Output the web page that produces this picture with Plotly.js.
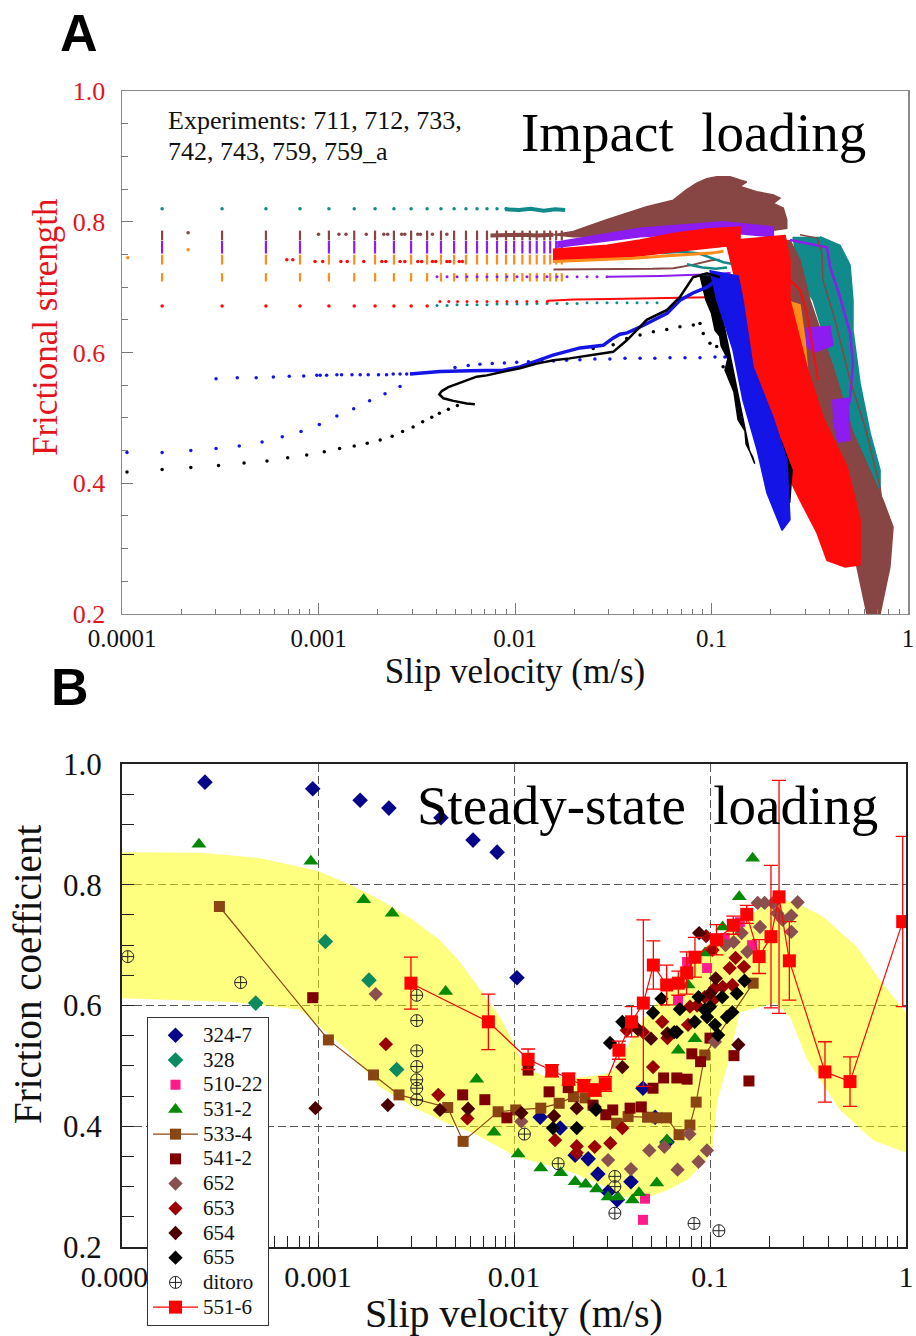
<!DOCTYPE html>
<html><head><meta charset="utf-8">
<script src="https://cdn.plot.ly/plotly-3.0.1.min.js"></script>
<style>body{margin:0;background:#fff}#chart{width:916px;height:1336px}</style>
</head><body><div id="chart"></div>
<script>
// ---------- shared axis ticks ----------
const xTickVals = [0.0001, 0.001, 0.01, 0.1, 1];
const xTickText = ['0.0001', '0.001', '0.01', '0.1', '1'];
const xMinorVals = [2e-4,3e-4,4e-4,5e-4,6e-4,7e-4,8e-4,9e-4,2e-3,3e-3,4e-3,5e-3,6e-3,7e-3,8e-3,9e-3,0.02,0.03,0.04,0.05,0.06,0.07,0.08,0.09,0.2,0.3,0.4,0.5,0.6,0.7,0.8,0.9];
const yTickVals = [0.2, 0.4, 0.6, 0.8, 1.0];
const yTickText = ['0.2', '0.4', '0.6', '0.8', '1.0'];
const yMinorVals = [0.25,0.3,0.35,0.45,0.5,0.55,0.65,0.7,0.75,0.85,0.9,0.95];

// ---------- Panel A: impact loading ----------
const colX = [1.6e-4, 3.23e-4, 5.4e-4, 8.05e-4, 1.13e-3, 1.52e-3, 1.94e-3, 2.42e-3, 2.96e-3, 3.57e-3, 4.2e-3, 4.9e-3, 5.63e-3, 6.41e-3, 7.2e-3, 8.1e-3, 9.0e-3, 9.9e-3, 0.0109, 0.0119, 0.0129, 0.0141, 0.0151, 0.0162, 0.0173];
const tealRowX = [1.6e-4, 3.23e-4, 5.4e-4, 8.05e-4, 1.13e-3, 1.52e-3, 1.94e-3, 2.42e-3, 2.96e-3, 3.57e-3, 4.2e-3, 4.9e-3, 5.63e-3, 6.41e-3, 7.2e-3, 8.1e-3, 9.0e-3];
const tealRowY = [0.82,0.82,0.82,0.82,0.82,0.82,0.82,0.82,0.82,0.82,0.82,0.82,0.82,0.82,0.82,0.82,0.82];
const tealBandX = [8.9e-3, 0.0105, 0.012, 0.014, 0.016, 0.018];
const tealBandY = [0.819, 0.818, 0.82, 0.817, 0.819, 0.818];
const brownRowY = [0.779,0.779,0.779,0.779,0.779,0.779,0.779,0.779,0.779,0.779,0.779,0.779,0.779,0.779,0.779,0.779,0.779,0.779,0.779,0.779,0.779,0.779,0.779,0.779,0.779];
const purpleRowY = [0.761,0.761,0.761,0.761,0.761,0.761,0.761,0.761,0.761,0.761,0.761,0.761,0.761,0.761,0.761,0.761,0.761,0.761,0.761,0.761,0.761,0.761,0.761,0.761,0.761];
const orangeRowY = [0.742,0.742,0.742,0.742,0.742,0.742,0.742,0.742,0.742,0.742,0.742,0.742,0.742,0.742,0.742,0.742,0.742,0.742,0.742,0.742,0.742,0.742,0.742,0.742,0.742];
const lowRowY = [0.715,0.715,0.715,0.715,0.715,0.715,0.715,0.715,0.715,0.715,0.715,0.715,0.715,0.715,0.715,0.715,0.715,0.715,0.715,0.715,0.715,0.715,0.715,0.715,0.715];
const redRowX = [1.6e-4, 3.23e-4, 5.4e-4, 8.05e-4, 1.13e-3, 1.52e-3, 1.94e-3, 2.42e-3, 2.96e-3, 3.57e-3];
const redRowY = [0.671,0.671,0.671,0.671,0.671,0.671,0.671,0.671,0.671,0.671];
const brownDotX = [2.17e-4, 1.0e-3, 1.27e-3, 1.38e-3, 1.75e-3, 2.15e-3, 2.25e-3, 2.65e-3, 2.75e-3, 3.2e-3, 3.3e-3, 3.8e-3, 4.5e-3];
const brownDotY = [0.783, 0.781, 0.781, 0.781, 0.781, 0.781, 0.781, 0.781, 0.781, 0.781, 0.781, 0.781, 0.781];
const redDotX = [6.9e-4, 7.4e-4, 9.6e-4, 1.05e-3, 1.3e-3, 1.4e-3, 1.7e-3, 2.1e-3, 2.2e-3, 2.6e-3, 2.75e-3, 3.2e-3, 3.35e-3, 3.8e-3, 3.95e-3, 4.5e-3, 4.65e-3, 5.2e-3, 5.4e-3];
const redDotY = [0.742,0.742,0.739,0.739,0.739,0.739,0.739,0.739,0.739,0.739,0.739,0.739,0.739,0.739,0.739,0.739,0.739,0.739,0.739];
const extraX = [2.17e-4, 1.07e-4];
const extraY = [0.757, 0.745];
const denseX = [4.01e-3, 4.51e-3, 5.07e-3, 5.7e-3, 6.41e-3, 7.2e-3, 8.1e-3, 9.1e-3, 0.01024, 0.0115, 0.01294, 0.01455, 0.01636, 0.0184, 0.0207, 0.02325, 0.02614, 0.0294, 0.033, 0.0372, 0.0418, 0.047, 0.0528];
const tealDotY = [0.672,0.672,0.673,0.673,0.673,0.673,0.674,0.674,0.674,0.674,0.675,0.675,0.675,0.675,0.675,0.676,0.676,0.676,0.676,0.676,0.676,0.676,0.676];
const purpleDotY = [0.716,0.716,0.716,0.716,0.716,0.716,0.716,0.716,0.716,0.716,0.716,0.716,0.716,0.716,0.716,0.716,0.716,0.716];
const redDot2X = [4.15e-3, 4.6e-3, 5.1e-3, 5.7e-3, 6.4e-3, 7.2e-3, 8.1e-3, 9.1e-3, 0.0102, 0.0115, 0.0129, 0.0146];
const redDot2Y = [0.678,0.678,0.678,0.678,0.678,0.678,0.678,0.678,0.678,0.678,0.678,0.678];
const redLineX = [0.0146, 0.02, 0.03, 0.045, 0.06, 0.08, 0.1, 0.115];
const redLineY = [0.679, 0.681, 0.682, 0.683, 0.683, 0.684, 0.685, 0.685];
const purpleLineX = [0.0294, 0.04, 0.055, 0.07, 0.09, 0.11, 0.125];
const purpleLineY = [0.716, 0.716, 0.717, 0.718, 0.719, 0.72, 0.722];
const brownThinBandX = [0.0157, 0.022, 0.03, 0.04, 0.05, 0.064, 0.08, 0.1, 0.11];
const brownThinBandY = [0.727, 0.727, 0.727, 0.728, 0.728, 0.729, 0.734, 0.741, 0.742];
const brownBandX = [7.5e-3, 0.009, 0.011, 0.013, 0.0157];
const brownBandY = [0.779, 0.78, 0.78, 0.779, 0.78];
const orangeLineX = [0.0156, 0.025, 0.04, 0.06, 0.08, 0.1, 0.115];
const orangeLineY = [0.739, 0.741, 0.744, 0.748, 0.75, 0.752, 0.755];
const tealMidX = [0.055, 0.07, 0.085, 0.1, 0.115, 0.13];
const tealMidY = [0.752, 0.754, 0.752, 0.745, 0.738, 0.735];
const tealMid2X = [0.075, 0.09, 0.105, 0.12];
const tealMid2Y = [0.735, 0.73, 0.728, 0.73];

const brownPeakX = [0.0157, 0.0198, 0.0293, 0.037, 0.0468, 0.0639, 0.0748, 0.0841, 0.0946, 0.1063, 0.1242, 0.1397, 0.151, 0.1397, 0.1698, 0.2064, 0.2233, 0.2064, 0.2318, 0.2415, 0.2415, 0.2064, 0.1397, 0.0946, 0.0639, 0.0433, 0.0293, 0.0198, 0.0157];
const brownPeakY = [0.78, 0.785, 0.803, 0.813, 0.823, 0.833, 0.849, 0.859, 0.866, 0.869, 0.869, 0.864, 0.861, 0.854, 0.846, 0.841, 0.836, 0.828, 0.821, 0.803, 0.79, 0.787, 0.79, 0.787, 0.782, 0.78, 0.777, 0.777, 0.78];
const purpleBandX = [0.0164, 0.0433, 0.1145, 0.2064, 0.2064, 0.1145, 0.0433, 0.0164];
const purpleBandY = [0.769, 0.79, 0.80, 0.792, 0.777, 0.784, 0.777, 0.761];
const redBandX = [0.0156, 0.0294, 0.0433, 0.0637, 0.0949, 0.1397, 0.1397, 0.0949, 0.0637, 0.0433, 0.0294, 0.0156];
const redBandY = [0.758, 0.764, 0.772, 0.782, 0.789, 0.792, 0.765, 0.76, 0.754, 0.748, 0.743, 0.739];
const tealDescX = [0.26, 0.2821, 0.3288, 0.4152, 0.5248, 0.6043, 0.656, 0.7208, 0.7208, 0.6412, 0.570, 0.5248, 0.5248, 0.5069, 0.4508, 0.3565];
const tealDescY = [0.777, 0.711, 0.68, 0.578, 0.477, 0.374, 0.344, 0.351, 0.42, 0.477, 0.553, 0.634, 0.68, 0.734, 0.764, 0.777];
const brownDescX = [0.1985, 0.2032, 0.2056, 0.2821, 0.3443, 0.4895, 0.5496, 0.6183, 0.7208, 0.8091, 0.8389, 0.7464, 0.5248, 0.4152, 0.3171, 0.2821, 0.2508];
const brownDescY = [0.772, 0.726, 0.68, 0.578, 0.477, 0.374, 0.272, 0.2, 0.2, 0.272, 0.333, 0.374, 0.477, 0.578, 0.68, 0.741, 0.772];
const purpleOutX = [0.2508, 0.306, 0.387, 0.401, 0.4508, 0.5069, 0.5248, 0.5069, 0.467, 0.4508];
const purpleOutY = [0.772, 0.767, 0.761, 0.731, 0.685, 0.63, 0.584, 0.527, 0.497, 0.466];
const purpleBlob1X = [0.2992, 0.401, 0.4152, 0.3365, 0.2992];
const purpleBlob1Y = [0.637, 0.64, 0.611, 0.601, 0.611];
const purpleBlob2X = [0.4104, 0.4955, 0.5069, 0.4405, 0.4152];
const purpleBlob2Y = [0.527, 0.53, 0.466, 0.463, 0.497];
const orangeDescX = [0.2366, 0.2821, 0.2992, 0.3171, 0.2992, 0.266, 0.2508];
const orangeDescY = [0.68, 0.673, 0.619, 0.527, 0.507, 0.558, 0.619];
const redDescX = [0.118, 0.13, 0.1446, 0.157, 0.1916, 0.2821, 0.3443, 0.387, 0.4778, 0.57, 0.57, 0.4895, 0.369, 0.306, 0.2508, 0.2508, 0.2366];
const redDescY = [0.772, 0.72, 0.68, 0.578, 0.477, 0.374, 0.324, 0.282, 0.272, 0.275, 0.344, 0.425, 0.501, 0.578, 0.68, 0.741, 0.78];
const redOutlineX = [0.1145, 0.2056, 0.2508, 0.2821, 0.306, 0.3246, 0.3483];
const redOutlineY = [0.685, 0.706, 0.711, 0.695, 0.66, 0.611, 0.558];
const brownThinX = [0.2821, 0.3443, 0.3649, 0.369, 0.4249, 0.5069, 0.6043, 0.6637, 0.7208, 0.7464];
const brownThinY = [0.78, 0.775, 0.752, 0.711, 0.65, 0.558, 0.486, 0.435, 0.394, 0.359];
const blackDescX = [0.0874, 0.0937, 0.1, 0.1042, 0.11, 0.112, 0.121, 0.1172, 0.13, 0.1365, 0.148, 0.15, 0.162, 0.166, 0.156, 0.145, 0.1286, 0.1172, 0.1079, 0.1006];
const blackDescY = [0.718, 0.68, 0.66, 0.634, 0.625, 0.61, 0.59, 0.573, 0.54, 0.497, 0.48, 0.46, 0.44, 0.43, 0.45, 0.497, 0.573, 0.634, 0.68, 0.718];
const blackDesc2X = [0.2, 0.225, 0.257, 0.25, 0.23];
const blackDesc2Y = [0.47, 0.466, 0.42, 0.37, 0.39];
const blueDescX = [0.0982, 0.1066, 0.1286, 0.1446, 0.1706, 0.1916, 0.2285, 0.2508, 0.2422, 0.2056, 0.1626, 0.1517, 0.1446, 0.1365];
const blueDescY = [0.726, 0.68, 0.604, 0.527, 0.451, 0.385, 0.328, 0.344, 0.435, 0.501, 0.578, 0.639, 0.68, 0.718];
const blueLineX = [2.92e-3, 4.15e-3, 5.9e-3, 8.69e-3, 0.0106, 0.0156, 0.0214, 0.0281, 0.0315, 0.0342, 0.0372, 0.0433, 0.0594, 0.0691, 0.0805, 0.0949, 0.1066];
const blueLineY = [0.567, 0.571, 0.572, 0.573, 0.578, 0.596, 0.607, 0.611, 0.622, 0.628, 0.63, 0.639, 0.66, 0.68, 0.691, 0.70, 0.711];
const blackLineX = [6.25e-3, 5.68e-3, 4.86e-3, 4.32e-3, 4.12e-3, 4.24e-3, 4.58e-3, 5.05e-3, 5.68e-3, 6.38e-3, 7.18e-3, 0.0106, 0.0129, 0.0157, 0.019, 0.025, 0.0316, 0.0372, 0.0468, 0.0594, 0.0691, 0.0805, 0.0949, 0.1104];
const blackLineY = [0.521, 0.522, 0.526, 0.530, 0.536, 0.541, 0.547, 0.552, 0.558, 0.563, 0.565, 0.576, 0.583, 0.588, 0.591, 0.596, 0.601, 0.619, 0.65, 0.665, 0.685, 0.715, 0.721, 0.715];
const blueRowX = [3.01e-4, 3.86e-4, 4.82e-4, 5.89e-4, 7.1e-4, 8.41e-4, 9.8e-4, 1.02e-3, 1.1e-3, 1.24e-3, 1.31e-3, 1.48e-3, 1.63e-3, 1.79e-3, 2.02e-3, 2.22e-3, 2.4e-3, 2.6e-3, 2.81e-3];
const blueRowY = [0.560, 0.5615, 0.5615, 0.5625, 0.5635, 0.564, 0.565, 0.565, 0.565, 0.566, 0.566, 0.566, 0.566, 0.566, 0.566, 0.566, 0.567, 0.567, 0.567];
const blueLowX = [1.06e-4, 1.6e-4, 2.24e-4, 3.01e-4, 3.95e-4, 5.16e-4, 6.54e-4, 8.15e-4, 1.01e-3, 1.24e-3, 1.51e-3, 1.82e-3, 2.18e-3, 2.6e-3];
const blueLowY = [0.447, 0.447, 0.45, 0.453, 0.457, 0.463, 0.471, 0.479, 0.49, 0.503, 0.514, 0.526, 0.537, 0.548];
const blueUpX = [4.95e-3, 5.78e-3, 6.63e-3, 7.66e-3, 8.83e-3, 0.0102, 0.0117, 0.0137, 0.0157, 0.0183, 0.0214, 0.0255, 0.0304, 0.0363, 0.0433, 0.0515, 0.0615, 0.0733, 0.0874, 0.1042, 0.117];
const blueUpY = [0.577, 0.58, 0.582, 0.583, 0.584, 0.585, 0.586, 0.587, 0.587, 0.588, 0.589, 0.59, 0.59, 0.591, 0.591, 0.591, 0.592, 0.592, 0.592, 0.593, 0.593];
const blackLowX = [1.06e-4, 1.6e-4, 2.24e-4, 3.1e-4, 4.18e-4, 5.47e-4, 6.97e-4, 8.71e-4, 1.07e-3, 1.28e-3, 1.52e-3, 1.77e-3, 2.06e-3, 2.37e-3, 2.68e-3, 3.03e-3, 3.39e-3, 3.77e-3, 4.12e-3, 4.58e-3, 5.09e-3];
const blackLowY = [0.417, 0.421, 0.424, 0.427, 0.431, 0.434, 0.439, 0.443, 0.448, 0.453, 0.457, 0.461, 0.466, 0.472, 0.479, 0.486, 0.494, 0.501, 0.507, 0.513, 0.519];
const blackArcX = [0.025, 0.0316, 0.037, 0.0433, 0.0506, 0.0592, 0.0691, 0.0808, 0.0874, 0.0908, 0.0982, 0.1063, 0.1146, 0.1242];
const blackArcY = [0.606, 0.612, 0.6215, 0.6266, 0.6317, 0.6353, 0.6393, 0.6419, 0.6445, 0.629, 0.614, 0.609, 0.578, 0.568];

// ---------- Panel B: steady-state loading ----------
const bandX = [1e-4, 1.56e-4, 2.5e-4, 5.06e-4, 1e-3, 1.46e-3, 2.07e-3, 2.95e-3, 4.19e-3, 5.3e-3, 6.71e-3, 8.49e-3, 9.77e-3, 0.01138, 0.0144, 0.0205, 0.0275, 0.0316, 0.0382, 0.0455, 0.0604, 0.0728, 0.1, 0.137, 0.18, 0.228, 0.272, 0.378, 0.562, 0.736, 1.0, 1.0, 0.679, 0.46, 0.313, 0.256, 0.215, 0.17, 0.142, 0.122, 0.109, 0.1035, 0.0943, 0.0764, 0.0604, 0.044, 0.0368, 0.0298, 0.02, 0.0136, 0.01035, 6.18e-3, 4.55e-3, 3.05e-3, 2.07e-3, 1.41e-3, 8.1e-4, 3.68e-4, 1e-4];
const bandY = [0.854, 0.854, 0.853, 0.844, 0.823, 0.80, 0.775, 0.745, 0.708, 0.672, 0.626, 0.581, 0.543, 0.497, 0.483, 0.48, 0.485, 0.49, 0.535, 0.576, 0.626, 0.664, 0.704, 0.73, 0.763, 0.775, 0.771, 0.747, 0.697, 0.642, 0.588, 0.356, 0.377, 0.427, 0.51, 0.581, 0.604, 0.596, 0.589, 0.498, 0.443, 0.366, 0.341, 0.311, 0.294, 0.278, 0.283, 0.299, 0.323, 0.339, 0.349, 0.389, 0.405, 0.432, 0.465, 0.526, 0.593, 0.606, 0.612];

const s3247X = [2.65e-4, 9.4e-4, 1.64e-3, 2.3e-3, 4.24e-3, 6.18e-3, 8.2e-3, 0.01035, 0.0136, 0.0172, 0.0205, 0.0239, 0.0268, 0.0302, 0.0336, 0.0395, 0.0455, 0.0525, 0.0604];
const s3247Y = [0.97, 0.959, 0.94, 0.927, 0.911, 0.874, 0.854, 0.646, 0.415, 0.397, 0.352, 0.346, 0.321, 0.291, 0.278, 0.308, 0.463, 0.415, 0.374];
const s328X = [4.81e-4, 1.09e-3, 1.82e-3, 2.52e-3];
const s328Y = [0.604, 0.706, 0.642, 0.494];
const s51022X = [0.0455, 0.0466, 0.0687, 0.0764, 0.0966, 0.119, 0.142, 0.164];
const s51022Y = [0.245, 0.28, 0.609, 0.672, 0.662, 0.712, 0.738, 0.70];
const s5312X = [2.47e-4, 9.2e-4, 1.71e-3, 2.39e-3, 4.48e-3, 6.45e-3, 7.9e-3, 0.0105, 0.0137, 0.0173, 0.0205, 0.0232, 0.0264, 0.0302, 0.0339, 0.0402, 0.0434, 0.0535, 0.0601, 0.0689, 0.0773, 0.0838, 0.0943, 0.116, 0.141, 0.165];
const s5312Y = [0.867, 0.839, 0.775, 0.753, 0.623, 0.478, 0.39, 0.354, 0.331, 0.323, 0.308, 0.304, 0.296, 0.283, 0.283, 0.278, 0.29, 0.306, 0.377, 0.526, 0.634, 0.545, 0.687, 0.73, 0.78, 0.844];
const s5334X = [3.14e-4, 1.13e-3, 1.92e-3, 2.59e-3, 4.59e-3, 5.5e-3, 8.3e-3, 0.0102, 0.0137, 0.017, 0.0201, 0.023, 0.0334, 0.0382, 0.048, 0.0536, 0.06, 0.0695, 0.079, 0.085, 0.094, 0.166];
const s5334Y = [0.764, 0.543, 0.485, 0.452, 0.431, 0.375, 0.424, 0.427, 0.43, 0.438, 0.449, 0.447, 0.405, 0.416, 0.415, 0.414, 0.414, 0.386, 0.402, 0.44, 0.518, 0.637];
const s5412X = [9.4e-4, 5.47e-3, 7.1e-3, 9.2e-3, 0.0118, 0.0151, 0.0189, 0.0253, 0.0294, 0.0319, 0.0391, 0.0446, 0.0512, 0.058, 0.0677, 0.0764, 0.0808, 0.0895, 0.1, 0.1325, 0.158];
const s5412Y = [0.613, 0.452, 0.444, 0.414, 0.493, 0.457, 0.464, 0.435, 0.419, 0.427, 0.43, 0.432, 0.463, 0.48, 0.48, 0.478, 0.52, 0.507, 0.546, 0.517, 0.475];
const s652X = [1.97e-3, 0.0109, 0.0302, 0.0395, 0.049, 0.0585, 0.0683, 0.0785, 0.0874, 0.0965, 0.106, 0.12, 0.132, 0.145, 0.155, 0.175, 0.18, 0.19, 0.21, 0.22, 0.235, 0.26, 0.26, 0.28];
const s652Y = [0.619, 0.408, 0.344, 0.329, 0.36, 0.366, 0.328, 0.387, 0.341, 0.36, 0.54, 0.70, 0.705, 0.72, 0.689, 0.77, 0.73, 0.77, 0.77, 0.753, 0.742, 0.749, 0.722, 0.771];
const s653X = [2.22e-3, 4.11e-3, 5.78e-3, 0.0162, 0.0209, 0.0209, 0.0258, 0.031, 0.0357, 0.0512, 0.0376, 0.0455, 0.057, 0.0606, 0.0773, 0.079, 0.086, 0.094, 0.0955, 0.103, 0.106, 0.1037, 0.116, 0.126, 0.13, 0.135, 0.149];
const s653Y = [0.536, 0.452, 0.413, 0.377, 0.367, 0.356, 0.366, 0.372, 0.397, 0.498, 0.559, 0.556, 0.573, 0.546, 0.568, 0.598, 0.60, 0.614, 0.715, 0.692, 0.629, 0.609, 0.631, 0.662, 0.634, 0.679, 0.664];
const s654X = [9.7e-4, 2.27e-3, 4.19e-3, 5.83e-3, 0.0109, 0.016, 0.0209, 0.0258, 0.0357, 0.043, 0.05, 0.0606, 0.088, 0.1, 0.107, 0.1395];
const s654Y = [0.43, 0.435, 0.427, 0.429, 0.422, 0.417, 0.43, 0.432, 0.498, 0.56, 0.545, 0.554, 0.72, 0.62, 0.645, 0.535];
const s655X = [0.0158, 0.0209, 0.0262, 0.0309, 0.0357, 0.0512, 0.0565, 0.0657, 0.0677, 0.0702, 0.0836, 0.0874, 0.094, 0.0966, 0.1, 0.106, 0.11, 0.1154, 0.122, 0.13, 0.137, 0.15];
const s655Y = [0.397, 0.397, 0.427, 0.538, 0.573, 0.588, 0.611, 0.556, 0.556, 0.594, 0.573, 0.614, 0.593, 0.581, 0.598, 0.568, 0.551, 0.614, 0.581, 0.589, 0.62, 0.641];
const ditoroX = [1.07e-4, 4.03e-4, 3.19e-3, 3.19e-3, 3.19e-3, 3.19e-3, 3.19e-3, 3.19e-3, 3.19e-3, 0.0113, 0.0168, 0.0327, 0.0327, 0.0327, 0.0829, 0.111];
const ditoroY = [0.681, 0.638, 0.617, 0.575, 0.525, 0.499, 0.477, 0.463, 0.444, 0.387, 0.338, 0.317, 0.30, 0.256, 0.239, 0.227];
const s5516X = [2.98e-3, 7.4e-3, 0.0118, 0.0156, 0.019, 0.0227, 0.0259, 0.0292, 0.0343, 0.0398, 0.0457, 0.0514, 0.0601, 0.0689, 0.076, 0.0838, 0.108, 0.1315, 0.154, 0.178, 0.2047, 0.225, 0.254, 0.386, 0.518, 0.962];
const s5516Y = [0.637, 0.573, 0.511, 0.492, 0.478, 0.467, 0.46, 0.47, 0.526, 0.573, 0.604, 0.667, 0.634, 0.637, 0.654, 0.68, 0.709, 0.733, 0.751, 0.681, 0.714, 0.78, 0.674, 0.49, 0.474, 0.739];
const s5516Err = [0.043, 0.046, 0.017, 0.01, 0.01, 0.01, 0.01, 0.012, 0.015, 0.025, 0.138, 0.04, 0.033, 0.02, 0.035, 0.033, 0.025, 0.015, 0.015, 0.028, 0.118, 0.193, 0.065, 0.05, 0.041, 0.141];

// ---------- build traces ----------
const SERIF = 'Liberation Serif, Times New Roman, serif';
const C = {teal:'#108a8a', brown:'#874543', purple:'#8c1cf0', orange:'#ff8c1a', red:'#ff0a0a', blue:'#1414e6', black:'#000000'};
const traces = [];
function dotsA(x, y, color, size, symbol) {
  const isLine = symbol && symbol.indexOf('line') === 0;
  traces.push({type:'scatter', mode:'markers', x:x, y:y, xaxis:'x', yaxis:'y', showlegend:false, hoverinfo:'skip',
    marker:{color:color, size:size, symbol:symbol || 'circle', line:{width:isLine ? 2.2 : 0, color:color}}});
}
function lineA(x, y, color, width) {
  traces.push({type:'scatter', mode:'lines', x:x, y:y, xaxis:'x', yaxis:'y', showlegend:false, hoverinfo:'skip',
    line:{color:color, width:width}});
}
function polyA(x, y, color) {
  traces.push({type:'scatter', mode:'lines', x:x, y:y, xaxis:'x', yaxis:'y', fill:'toself', fillcolor:color,
    line:{color:color, width:1.5}, showlegend:false, hoverinfo:'skip'});
}

dotsA(tealRowX, tealRowY, C.teal, 3.5);
dotsA(colX, brownRowY, C.brown, 7, 'line-ns-open');
dotsA(brownDotX, brownDotY, C.brown, 3.5);
dotsA(colX, purpleRowY, C.purple, 9, 'line-ns-open');
dotsA(colX, orangeRowY, C.orange, 7, 'line-ns-open');
dotsA(redDotX, redDotY, C.red, 3.5);
dotsA(colX, lowRowY, C.orange, 6, 'line-ns-open');
dotsA(redRowX, redRowY, C.red, 3.5);
dotsA(extraX, extraY, C.orange, 3.5);
dotsA(denseX, tealDotY, C.teal, 3);
dotsA(redDot2X, redDot2Y, C.red, 3);
dotsA(denseX.slice(0, 18), purpleDotY, C.purple, 3);
lineA(tealBandX, tealBandY, C.teal, 4);
lineA(brownBandX, brownBandY, C.brown, 4);
lineA(redLineX, redLineY, C.red, 2);
lineA(purpleLineX, purpleLineY, C.purple, 2);
lineA(brownThinBandX, brownThinBandY, C.brown, 2);
lineA(tealMidX, tealMidY, C.teal, 2.5);
lineA(tealMid2X, tealMid2Y, C.teal, 2.5);
polyA(brownPeakX, brownPeakY, C.brown);
polyA(purpleBandX, purpleBandY, C.purple);
polyA(redBandX, redBandY, C.red);
lineA(orangeLineX, orangeLineY, C.orange, 3);
polyA(tealDescX, tealDescY, C.teal);
polyA(brownDescX, brownDescY, C.brown);
lineA(purpleOutX, purpleOutY, C.purple, 2.5);
polyA(purpleBlob1X, purpleBlob1Y, C.purple);
polyA(purpleBlob2X, purpleBlob2Y, C.purple);
polyA(orangeDescX, orangeDescY, C.orange);
polyA(redDescX, redDescY, C.red);
lineA(redOutlineX, redOutlineY, C.red, 2);
lineA(brownThinX, brownThinY, C.brown, 1.5);
polyA(blackDescX, blackDescY, C.black);
polyA(blackDesc2X, blackDesc2Y, C.black);
polyA(blueDescX, blueDescY, C.blue);
dotsA(blueRowX, blueRowY, C.blue, 3.5);
dotsA(blueLowX, blueLowY, C.blue, 3.5);
dotsA(blueUpX, blueUpY, C.blue, 3.5);
dotsA(blackLowX, blackLowY, C.black, 3.5);
dotsA(blackArcX, blackArcY, C.black, 3.5);
lineA(blueLineX, blueLineY, C.blue, 3.5);
lineA(blackLineX, blackLineY, C.black, 2.5);

// panel B
traces.push({type:'scatter', mode:'lines', x:bandX, y:bandY, xaxis:'x2', yaxis:'y2', fill:'toself',
  fillcolor:'rgba(255,255,0,0.5)', line:{width:0, color:'rgba(0,0,0,0)'}, showlegend:false, hoverinfo:'skip'});
function legName(s) { return '<span style="font-size:21px">' + s + '</span>'; }
function seriesB(name, x, y, color, symbol, size, extra) {
  const t = {type:'scatter', mode:'markers', name:legName(name), x:x, y:y, xaxis:'x2', yaxis:'y2',
    marker:{color:color, symbol:symbol, size:size, line:{width:0}}};
  Object.assign(t, extra || {});
  traces.push(t);
}
seriesB('324-7', s3247X, s3247Y, '#05058a', 'diamond', 12);
seriesB('328', s328X, s328Y, '#0a8a5e', 'diamond', 12);
seriesB('510-22', s51022X, s51022Y, '#ff1a8c', 'square', 10);
seriesB('531-2', s5312X, s5312Y, '#068a06', 'triangle-up', 13);
seriesB('533-4', s5334X, s5334Y, '#8b4513', 'square', 11, {mode:'lines+markers', line:{color:'#8b4513', width:1.2}});
seriesB('541-2', s5412X, s5412Y, '#800000', 'square', 11);
seriesB('652', s652X, s652Y, '#8a5050', 'diamond', 11);
seriesB('653', s653X, s653Y, '#9b0000', 'diamond', 11);
seriesB('654', s654X, s654Y, '#4a0000', 'diamond', 11);
seriesB('655', s655X, s655Y, '#000000', 'diamond', 11);
traces.push({type:'scatter', mode:'markers', name:legName('ditoro'), x:ditoroX, y:ditoroY, xaxis:'x2', yaxis:'y2',
  marker:{symbol:'circle-cross-open', size:12, color:'#222', line:{width:1, color:'#222'}}});
traces.push({type:'scatter', mode:'lines+markers', name:legName('551-6'), x:s5516X, y:s5516Y, xaxis:'x2', yaxis:'y2',
  line:{color:'#ff0000', width:1.2}, marker:{symbol:'square', size:13, color:'#ff0000'},
  error_y:{type:'data', array:s5516Err, visible:true, color:'#ff0000', thickness:1.3, width:7}});

// ---------- layout ----------
const axisCommonX = {type:'log', range:[-4, 0], tickmode:'array', tickvals:xTickVals, ticktext:xTickText,
  ticks:'inside', zeroline:false, showline:true, mirror:true, automargin:false};
const layout = {
  width:916, height:1336,
  margin:{l:122, r:8, t:91, b:89, autoexpand:false},
  paper_bgcolor:'#ffffff', plot_bgcolor:'#ffffff',
  font:{family:SERIF, color:'#111'},
  showlegend:true,
  legend:{x:0.0318, y:0.199, xanchor:'left', yanchor:'top', bgcolor:'#ffffff', bordercolor:'#333', borderwidth:1,
    font:{family:SERIF, size:16.7, color:'#111'}, itemwidth:45, tracegroupgap:0},
  xaxis: Object.assign({}, axisCommonX, {domain:[0, 1], anchor:'y', ticklen:11, tickcolor:'#777', linecolor:'#8a8a8a', linewidth:1.5,
    showgrid:false, tickfont:{family:SERIF, size:25, color:'#111'}, ticklabelstandoff:2,
    minor:{tickmode:'array', tickvals:xMinorVals, ticks:'inside', ticklen:5, tickcolor:'#777', showgrid:false},
    title:{text:'Slip velocity (m/s)', font:{family:SERIF, size:35, color:'#111'}, standoff:2}}),
  yaxis: {domain:[0.5476, 1], anchor:'x', range:[0.2, 1.0], tickmode:'array', tickvals:yTickVals, ticktext:yTickText,
    ticks:'inside', ticklen:11, tickcolor:'#777', showline:true, mirror:true, linecolor:'#8a8a8a', linewidth:1.5,
    showgrid:false, zeroline:false, automargin:false, tickfont:{family:SERIF, size:26, color:'#e3141b'}, ticklabelstandoff:10,
    minor:{tickmode:'array', tickvals:yMinorVals, ticks:'inside', ticklen:6, tickcolor:'#777', showgrid:false}},
  xaxis2: Object.assign({}, axisCommonX, {domain:[0, 0.99746], anchor:'y2', ticklen:12, tickcolor:'#222', linecolor:'#222', linewidth:2,
    showgrid:true, gridcolor:'#555', griddash:'8px,4px', gridwidth:1, layer:'above traces',
    tickfont:{family:SERIF, size:30, color:'#111'}, ticklabelstandoff:2,
    minor:{tickmode:'array', tickvals:xMinorVals, ticks:'inside', ticklen:11, tickcolor:'#222', showgrid:false},
    title:{text:'Slip velocity (m/s)', font:{family:SERIF, size:40, color:'#111'}, standoff:4}}),
  yaxis2: {domain:[0, 0.4178], anchor:'x2', range:[0.2, 1.0], tickmode:'array', tickvals:yTickVals, ticktext:yTickText,
    ticks:'inside', ticklen:12, tickcolor:'#222', showline:true, mirror:true, linecolor:'#222', linewidth:2,
    showgrid:true, gridcolor:'#555', griddash:'8px,4px', gridwidth:1, zeroline:false, automargin:false, layer:'above traces',
    tickfont:{family:SERIF, size:31, color:'#111'}, ticklabelstandoff:12,
    minor:{tickmode:'array', tickvals:yMinorVals, ticks:'inside', ticklen:12, tickcolor:'#222', showgrid:false}},
  annotations:[
    {text:'<b>A</b>', xref:'paper', yref:'paper', x:-0.0547, y:1.0502, xanchor:'center', yanchor:'middle', showarrow:false,
      font:{family:'Liberation Sans, Arial, sans-serif', size:52, color:'#000'}},
    {text:'<b>B</b>', xref:'paper', yref:'paper', x:-0.0662, y:0.4844, xanchor:'center', yanchor:'middle', showarrow:false,
      font:{family:'Liberation Sans, Arial, sans-serif', size:52, color:'#000'}},
    {text:'Frictional strength', xref:'paper', yref:'paper', x:(45-122)/786, y:(1247-327)/1156, textangle:-90,
      xanchor:'center', yanchor:'middle', showarrow:false, font:{family:SERIF, size:35, color:'#e3141b'}},
    {text:'Friction coefficient', xref:'paper', yref:'paper', x:(28-122)/786, y:(1247-975)/1156, textangle:-90,
      xanchor:'center', yanchor:'middle', showarrow:false, font:{family:SERIF, size:39, color:'#111'}},
    {text:'Experiments: 711, 712, 733,', xref:'paper', yref:'paper', x:0.056, y:(1247-121)/1156,
      xanchor:'left', yanchor:'middle', align:'left', showarrow:false, font:{family:SERIF, size:26, color:'#111'}},
    {text:'742, 743, 759, 759_a', xref:'paper', yref:'paper', x:0.056, y:(1247-151)/1156,
      xanchor:'left', yanchor:'middle', align:'left', showarrow:false, font:{family:SERIF, size:26, color:'#111'}},
    {text:'Impact\u00a0 loading', xref:'paper', yref:'paper', x:0.7265, y:0.9637, xanchor:'center', yanchor:'middle',
      showarrow:false, font:{family:SERIF, size:55, color:'#000'}},
    {text:'Steady-state\u00a0 loading', xref:'paper', yref:'paper', x:0.669, y:0.3815, xanchor:'center', yanchor:'middle',
      showarrow:false, font:{family:SERIF, size:55, color:'#000'}}
  ]
};
Plotly.newPlot('chart', traces, layout, {staticPlot:true, displayModeBar:false});
</script></body></html>
